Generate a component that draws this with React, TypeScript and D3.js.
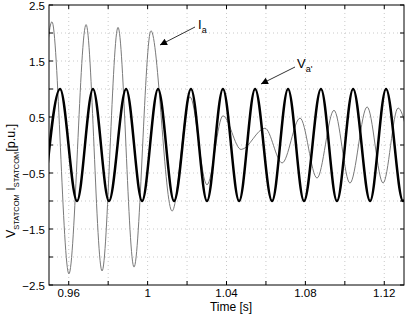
import React from "react";
import { scaleLinear, line, curveMonotoneX } from "d3";

// voltage V_a' extrema (time [s], p.u.)
const vTimes = [0.9475, 0.9556, 0.9642, 0.9723, 0.9804, 0.9891, 0.9972, 1.0053, 1.0134, 1.022, 1.0301, 1.0382, 1.0464, 1.0545, 1.0631, 1.0712, 1.0793, 1.0879, 1.096, 1.1042, 1.1128, 1.1209, 1.1295, 1.1376];
const vValues = [-1, 1, -1, 1, -1, 1, -1, 1, -1, 1, -1, 1, -1, 1, -1, 1, -1, 1, -1, 1, -1, 1, -1, 1];

// current I_a extrema
const iTimes = [0.9434, 0.9515, 0.9601, 0.9688, 0.9769, 0.985, 0.9931, 1.0017, 1.0124, 1.0215, 1.0301, 1.0382, 1.0474, 1.0595, 1.0682, 1.0773, 1.0859, 1.0945, 1.1026, 1.1113, 1.1194, 1.127, 1.1356];
const iValues = [-2.3, 2.2, -2.3, 2.15, -2.25, 2.1, -2.18, 2.04, -1.18, 0.86, -0.71, 0.52, -0.08, 0.3, -0.32, 0.48, -0.59, 0.62, -0.68, 0.68, -0.68, 0.66, -0.68];

const xTicks = [0.96, 0.98, 1, 1.02, 1.04, 1.06, 1.08, 1.1, 1.12];
const xLabels = [0.96, 1, 1.04, 1.08, 1.12];
const yTicks = [-2.5, -2, -1.5, -1, -0.5, 0, 0.5, 1, 1.5, 2, 2.5];
const yLabels = [-2.5, -1.5, -0.5, 0.5, 1.5, 2.5];

const W = 410, H = 314;
const L = 49, R = 404, T = 5, B = 285;

export default function App() {
  const x = scaleLinear().domain([0.95, 1.13]).range([L, R]);
  const y = scaleLinear().domain([-2.5, 2.5]).range([B, T]);

  const gen = line<[number, number]>()
    .x((d) => x(d[0]))
    .y((d) => y(d[1]))
    .curve(curveMonotoneX);

  const vPath = gen(vTimes.map((t, i) => [t, vValues[i]]));
  const iPath = gen(iTimes.map((t, i) => [t, iValues[i]]));

  const font = "Liberation Sans, Arial, sans-serif";
  const fmt = (v: number) => (v < 0 ? "\u2212" + String(-v) : String(v));

  return (
    <svg width={W} height={H} style={{ position: "absolute", left: 0, top: 0, background: "#fff" }} fontFamily={font}>
      <defs>
        <clipPath id="plot">
          <rect x={L} y={T} width={R - L} height={B - T} />
        </clipPath>
        <marker id="arr" viewBox="0 0 10 10" refX="10" refY="5" markerWidth="9" markerHeight="7" orient="auto" markerUnits="userSpaceOnUse">
          <path d="M0,0 L10,5 L0,10 z" fill="#000" />
        </marker>
      </defs>
      <rect x={0} y={0} width={W} height={H} fill="#fff" />

      {/* grid */}
      <g stroke="#bbb" strokeWidth={0.8} strokeDasharray="1,3">
        {xTicks.map((t) => (
          <line key={"gx" + t} x1={x(t)} x2={x(t)} y1={T} y2={B} />
        ))}
        {yTicks.slice(1, -1).map((t) => (
          <line key={"gy" + t} x1={L} x2={R} y1={y(t)} y2={y(t)} />
        ))}
      </g>

      <g clipPath="url(#plot)" fill="none">
        <path d={iPath || ""} stroke="#7a7a7a" strokeWidth={1} />
        <path d={vPath || ""} stroke="#000" strokeWidth={2.5} />
      </g>

      {/* box + ticks */}
      <rect x={L} y={T} width={R - L} height={B - T} fill="none" stroke="#000" strokeWidth={1} />
      <g stroke="#000" strokeWidth={1}>
        {xTicks.map((t) => (
          <g key={"tx" + t}>
            <line x1={x(t)} x2={x(t)} y1={B} y2={B - 4} />
            <line x1={x(t)} x2={x(t)} y1={T} y2={T + 4} />
          </g>
        ))}
        {yTicks.map((t) => (
          <g key={"ty" + t}>
            <line x1={L} x2={L + 4} y1={y(t)} y2={y(t)} />
            <line x1={R} x2={R - 4} y1={y(t)} y2={y(t)} />
          </g>
        ))}
      </g>

      <g fontSize={11.5} fill="#000">
        {xLabels.map((t) => (
          <text key={"lx" + t} x={x(t)} y={B + 12} textAnchor="middle">
            {String(t)}
          </text>
        ))}
        {yLabels.map((t) => (
          <text key={"ly" + t} x={L - 4} y={y(t) + 4.5} textAnchor="end">
            {fmt(t)}
          </text>
        ))}
        <text x={231} y={311} textAnchor="middle" fontSize={12}>Time [s]</text>
      </g>

      {/* y label */}
      <text transform={`translate(15, ${181}) rotate(-90)`} fontSize={12.5} fill="#000" textAnchor="middle">
        <tspan>V</tspan>
        <tspan fontSize={7.5} dy={4}>STATCOM</tspan>
        <tspan dy={-4}> I</tspan>
        <tspan fontSize={7.5} dy={4}>STATCOM</tspan>
        <tspan dy={-4}>[p.u.]</tspan>
      </text>

      {/* annotations */}
      <line x1={195} y1={27} x2={160} y2={45} stroke="#333" strokeWidth={1} markerEnd="url(#arr)" />
      <text x={198} y={29} fontSize={13} fill="#000">
        I<tspan fontSize={9} dy={4}>a</tspan>
      </text>
      <line x1={295} y1={67} x2={261} y2={84} stroke="#333" strokeWidth={1} markerEnd="url(#arr)" />
      <text x={297} y={68} fontSize={13} fill="#000">
        V<tspan fontSize={9} dy={4}>a'</tspan>
      </text>
    </svg>
  );
}
